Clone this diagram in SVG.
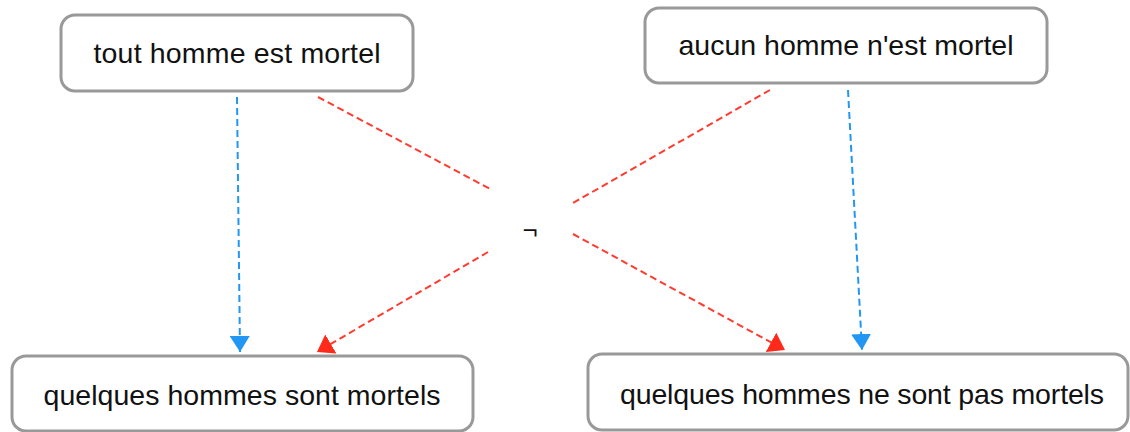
<svg xmlns="http://www.w3.org/2000/svg" width="1130" height="432" viewBox="0 0 1130 432">
<style>
.box{fill:#fff;stroke:#999;stroke-width:3}
.lbl{font-family:"Liberation Sans",Arial,sans-serif;font-size:28.5px;fill:#111;text-anchor:middle}
.blue{stroke:#2196f3;stroke-width:2;stroke-dasharray:7 4;fill:none}
.red{stroke:#ff3b30;stroke-width:2;stroke-dasharray:7 4;fill:none}
</style>
<defs>
<marker id="ab" markerUnits="userSpaceOnUse" markerWidth="17" markerHeight="20" refX="16" refY="10" orient="auto"><path d="M0,0 L16,10 L0,20 Z" fill="#2196f3"/></marker>
<marker id="ar" markerUnits="userSpaceOnUse" markerWidth="17" markerHeight="22" refX="16" refY="11" orient="auto"><path d="M0,0 L16,11 L0,22 Z" fill="#ff2a1a"/></marker>
</defs>
<rect width="1130" height="432" fill="#fff"/>
<g id="connectors">
<line class="blue" x1="237" y1="97" x2="240" y2="352" marker-end="url(#ab)"/>
<line class="blue" x1="848" y1="90" x2="862" y2="350" marker-end="url(#ab)"/>
<line class="red" x1="318" y1="97" x2="492" y2="190"/>
<line class="red" x1="573" y1="234" x2="785" y2="350" marker-end="url(#ar)"/>
<line class="red" x1="770" y1="90" x2="573" y2="203"/>
<line class="red" x1="488" y1="252" x2="317" y2="352" marker-end="url(#ar)"/>
<text x="530" y="239" style="font-family:'Liberation Sans',Arial,sans-serif;font-size:26px;fill:#111;text-anchor:middle">¬</text>
</g>
<g id="n1"><rect class="box" x="61" y="15" width="352" height="76" rx="14"/><text class="lbl" x="237" y="63" textLength="287">tout homme est mortel</text></g>
<g id="n2"><rect class="box" x="645" y="8" width="402" height="75" rx="14"/><text class="lbl" x="846" y="55" textLength="335">aucun homme n'est mortel</text></g>
<g id="n3"><rect class="box" x="12" y="356" width="461" height="75" rx="14"/><text class="lbl" x="242" y="405" textLength="397">quelques hommes sont mortels</text></g>
<g id="n4"><rect class="box" x="588" y="354" width="540" height="76" rx="14"/><text class="lbl" x="862" y="404" textLength="484">quelques hommes ne sont pas mortels</text></g>
</svg>
